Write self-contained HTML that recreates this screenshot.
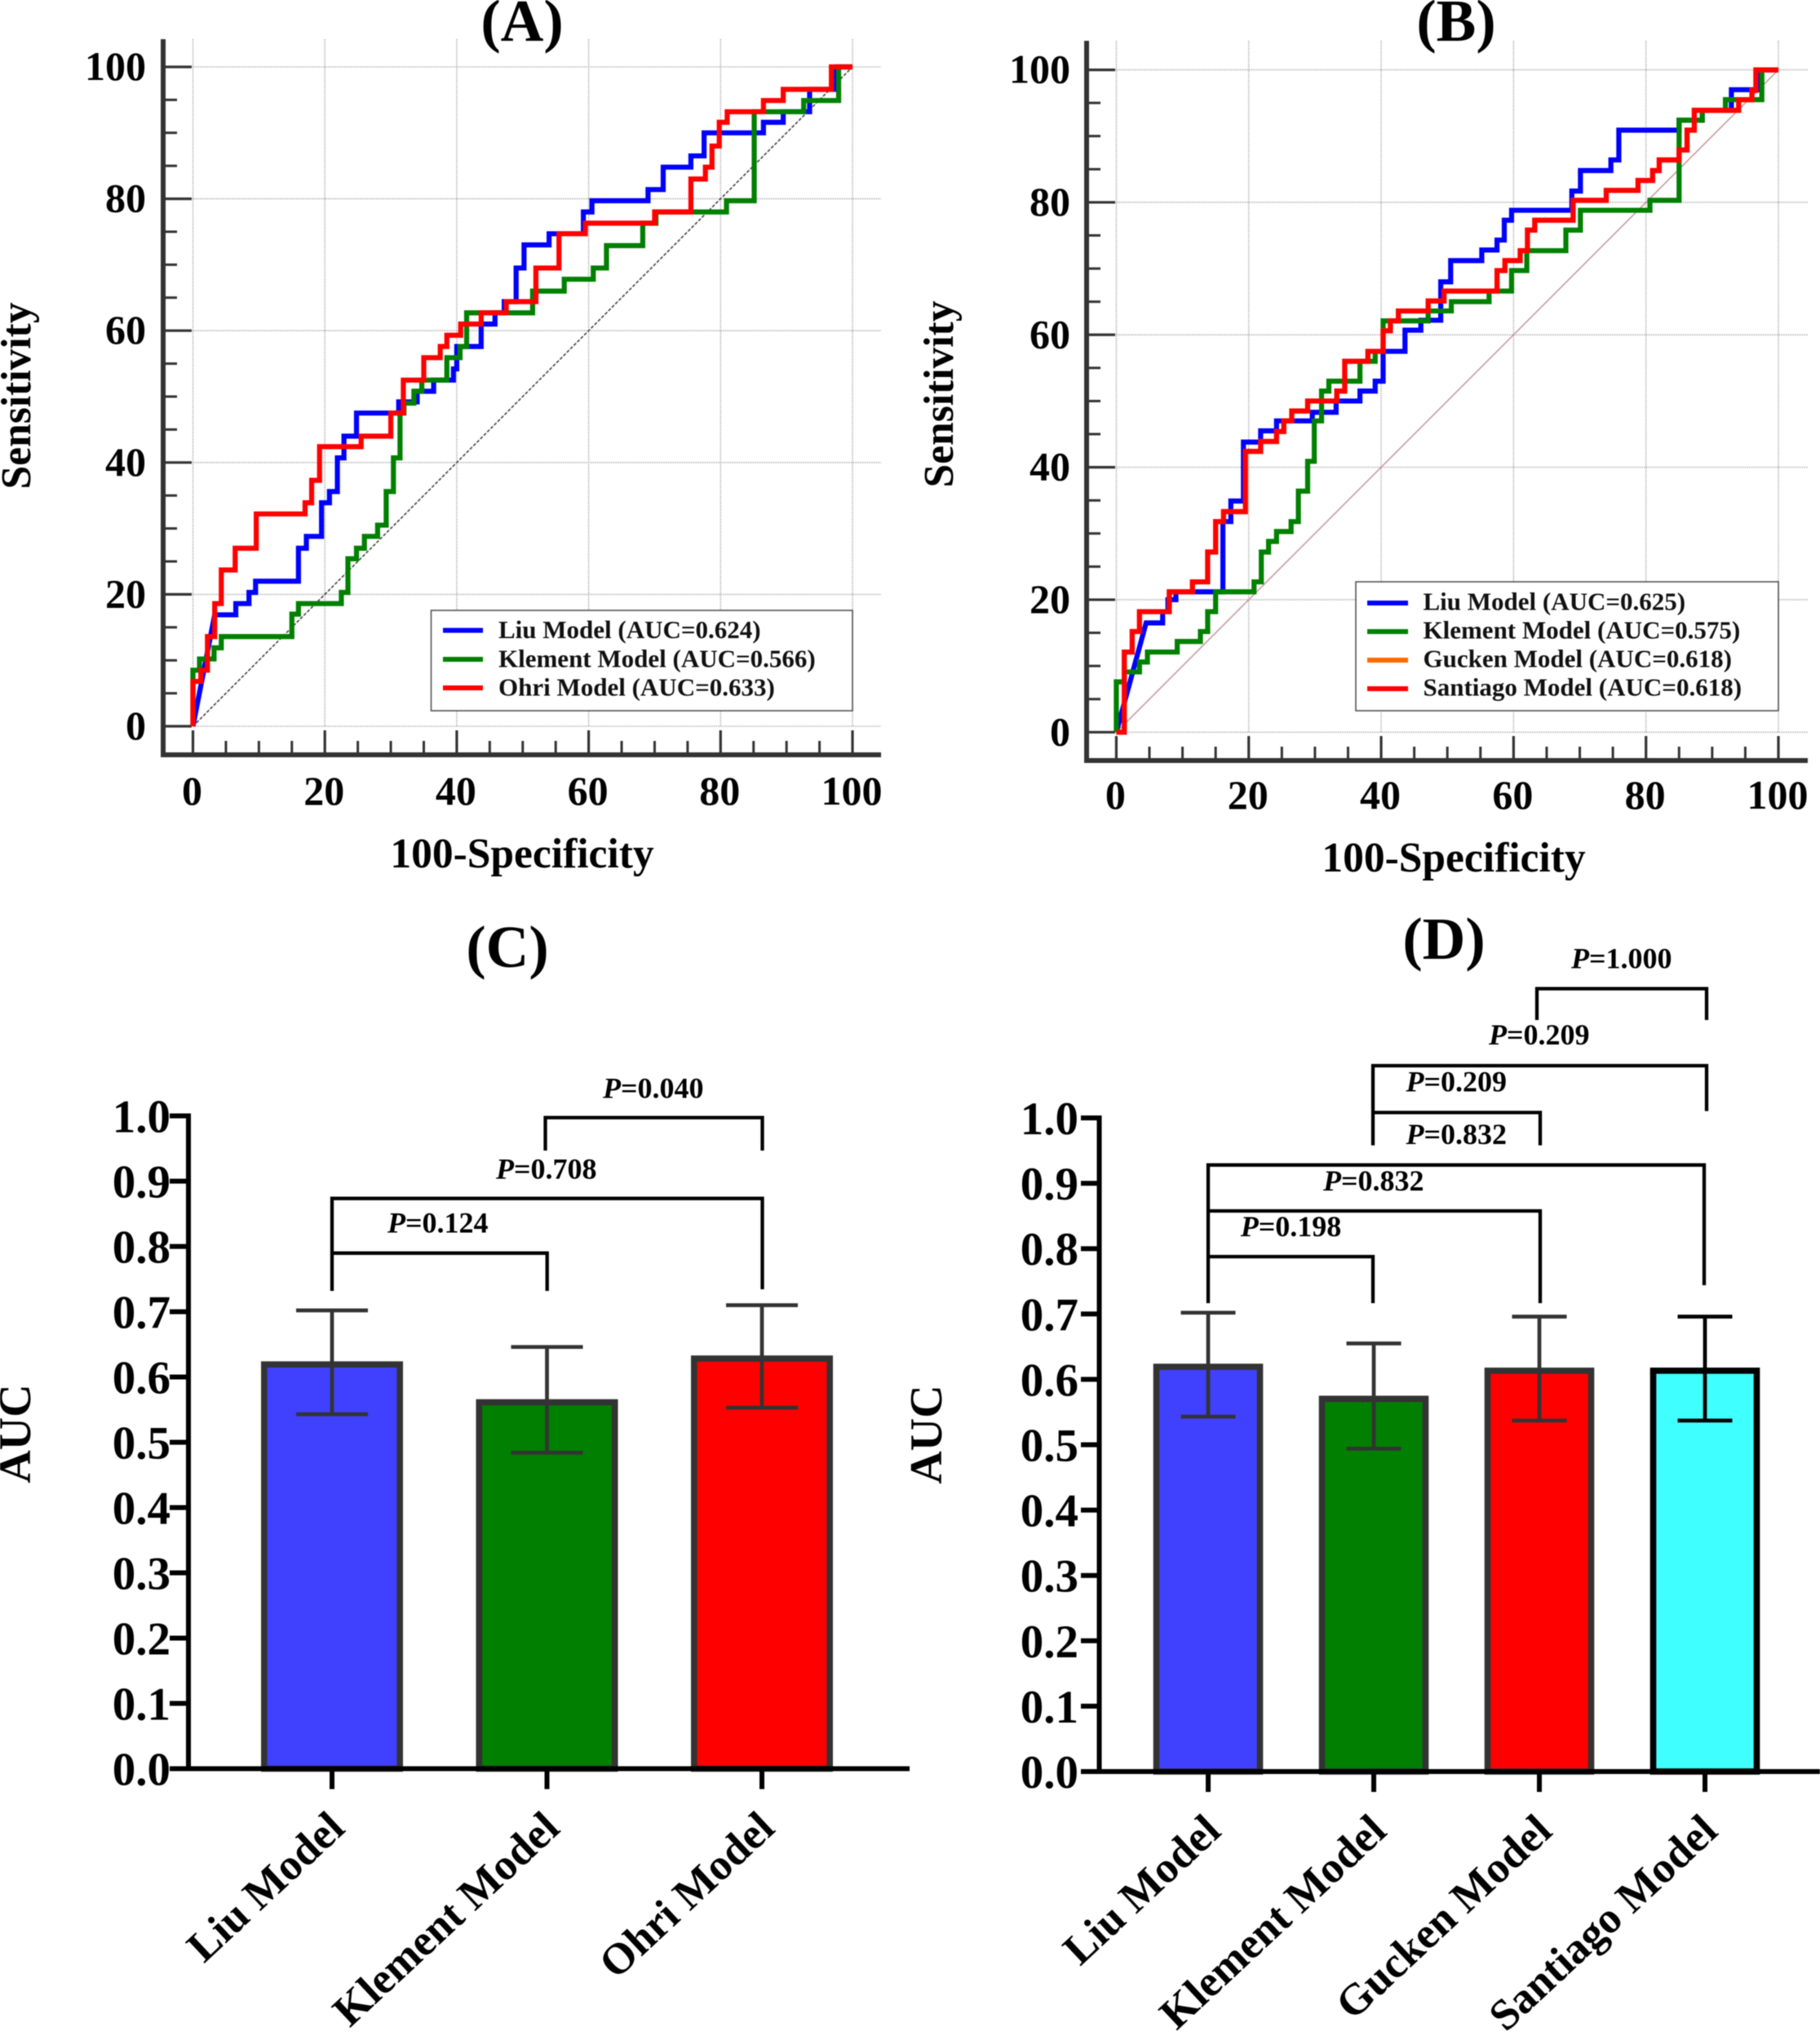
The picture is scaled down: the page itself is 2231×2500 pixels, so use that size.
<!DOCTYPE html>
<html lang="en">
<head>
<meta charset="utf-8">
<title>ROC curves and AUC comparison</title>
<style>
html,body{margin:0;padding:0;background:#fff;width:2231px;height:2500px;overflow:hidden}
svg{display:block;filter:blur(0.5px)}
text{font-family:"Liberation Serif",serif;font-weight:bold;fill:#000}
.leg{font-size:31px;fill:#111}
.pv{font-size:36px}
.ttl{font-size:73px;text-anchor:middle}
.ax{font-size:51.5px;text-anchor:middle}
.auc{font-size:56px;text-anchor:middle}
</style>
</head>
<body>
<svg id="fig" xmlns="http://www.w3.org/2000/svg" width="2231" height="2500" viewBox="0 0 2231 2500">
  <rect x="0" y="0" width="2231" height="2500" fill="#fff"/>
  <g id="panelA"></g>
  <g id="panelB"></g>
  <g id="panelC"></g>
  <g id="panelD"></g>

  <text class="ttl" x="640" y="50">(A)</text>
  <text class="ttl" x="1785" y="50">(B)</text>
  <text class="ttl" x="622" y="1185">(C)</text>
  <text class="ttl" x="1770" y="1175">(D)</text>

  <text class="ax" x="640" y="1063">100-Specificity</text>
  <text class="ax" x="1782" y="1068">100-Specificity</text>
  <text class="ax" transform="translate(37 485) rotate(-90)">Sensitivity</text>
  <text class="ax" transform="translate(1168 483) rotate(-90)">Sensitivity</text>
  <text class="auc" transform="translate(37 1757) rotate(-90)">AUC</text>
  <text class="auc" transform="translate(1154 1758) rotate(-90)">AUC</text>

  <g>
    <rect x="528.5" y="748" width="516.5" height="123" fill="#fff" stroke="#555" stroke-width="1.6"/>
    <rect x="543" y="769.5" width="49" height="6" fill="#0000ff"/>
    <text class="leg" x="611" y="782">Liu Model (AUC=0.624)</text>
    <rect x="543" y="805" width="49" height="6" fill="#008000"/>
    <text class="leg" x="611" y="817.5">Klement Model (AUC=0.566)</text>
    <rect x="543" y="840" width="49" height="6" fill="#ff0000"/>
    <text class="leg" x="611" y="852.5">Ohri Model (AUC=0.633)</text>
  </g>
  <g>
    <rect x="1662" y="713" width="518" height="158" fill="#fff" stroke="#555" stroke-width="1.6"/>
    <rect x="1676" y="736" width="50" height="6" fill="#0000ff"/>
    <text class="leg" x="1744.5" y="747.5">Liu Model (AUC=0.625)</text>
    <rect x="1676" y="771" width="50" height="6" fill="#008000"/>
    <text class="leg" x="1744.5" y="782.5">Klement Model (AUC=0.575)</text>
    <rect x="1676" y="806" width="50" height="6" fill="#ff6a00"/>
    <text class="leg" x="1744.5" y="817.5">Gucken Model (AUC=0.618)</text>
    <rect x="1676" y="841" width="50" height="6" fill="#ff0000"/>
    <text class="leg" x="1744.5" y="852.5">Santiago Model (AUC=0.618)</text>
  </g>

  <g fill="none" stroke="#000" stroke-width="4.3">
    <path d="M668.5 1410V1369.6H934.5V1410"/>
    <path d="M407 1582V1468.7H934.5V1580"/>
    <path d="M407 1535.7H670.7V1582"/>
    <text class="pv" stroke="none" x="739" y="1345.5"><tspan font-style="italic">P</tspan>=0.040</text>
    <text class="pv" stroke="none" x="608" y="1444.6"><tspan font-style="italic">P</tspan>=0.708</text>
    <text class="pv" stroke="none" x="475" y="1510.7"><tspan font-style="italic">P</tspan>=0.124</text>
  </g>
  <g fill="none" stroke="#000" stroke-width="4.3">
    <path d="M1884 1250V1211.6H2092V1250"/>
    <path d="M1683 1403.6V1306H2092V1361.6"/>
    <path d="M1683 1363.4H1888V1403.6"/>
    <path d="M1481 1597V1427.7H2089V1575"/>
    <path d="M1481 1484H1888V1597"/>
    <path d="M1481 1540H1683V1597"/>
    <text class="pv" stroke="none" x="1926" y="1186.6"><tspan font-style="italic">P</tspan>=1.000</text>
    <text class="pv" stroke="none" x="1825" y="1280"><tspan font-style="italic">P</tspan>=0.209</text>
    <text class="pv" stroke="none" x="1723.5" y="1337.5"><tspan font-style="italic">P</tspan>=0.209</text>
    <text class="pv" stroke="none" x="1723.5" y="1401.8"><tspan font-style="italic">P</tspan>=0.832</text>
    <text class="pv" stroke="none" x="1622" y="1459"><tspan font-style="italic">P</tspan>=0.832</text>
    <text class="pv" stroke="none" x="1520.7" y="1515"><tspan font-style="italic">P</tspan>=0.198</text>
  </g>
</svg>

<script>
// ---------- Panel A ROC data (step vertices: 100-specificity, sensitivity) ----------
const liuFprA = [3.3,6.5,8.5,9.5,16,17.2,19.5,20.7,21.9,22.9,24.8,31.2,34,36.5,39.5,40,43.7,45.8,47.2,49,50.2,54,59.2,60.5,69,71.3,75.5,77.5,86.5,89.5,93.5,94,97.5];
const liuTprA = [16.9,18.6,20.3,22,27,28.8,33.9,35.6,40.7,44,47.5,49.2,50.8,52.5,54.2,57.6,61,62.7,64.4,69.5,73,74.7,78,79.7,81.4,84.8,86.5,90,91.6,93.2,96.6,96.6,100];
const klementFprA = [0,1,3.2,4.3,15,16,22.5,23.5,24.8,26,28,29.3,30.4,31.4,32,33.5,34.7,38.5,40.5,41.5,51.5,56.3,60.7,62.7,68.2,70.2,71.3,80.9,85.1,92.6,97.9];
const klementTprA = [8.5,10.2,11.9,13.6,17,18.6,20.3,25.4,27,28.8,30.5,35.6,40.7,47.5,49,50.8,52.5,55.9,57.6,62.7,66,67.8,69.5,72.9,76.3,78,78,79.7,93.2,94.9,100];
const ohriFprA = [0,1.2,2.2,3.3,4.3,6.4,9.6,17,18,19.2,25.5,30,31.9,35,37.5,38.5,40.6,43.7,47.5,52,55.5,59.5,70,75.5,77.7,78.7,79.8,81,86.5,89.5,96.8];
const ohriTprA = [6.8,8.5,13.6,18.6,23.7,27,32.2,33.9,37.3,42.4,44,47.5,52.5,55.9,57.6,59.3,61,62.7,64.4,69.5,74.7,76.3,78,83,84.8,88,91.6,93.2,94.9,96.6,100];

// ---------- Panel B ROC data ----------
const liuFprB = [4.5,7,7.8,9,16.1,17.3,19.2,21.8,24.2,29.6,33.2,36.8,39.1,40.3,43.6,46,49,50.5,55.2,57.5,58.6,59.7,68.8,70.1,74.7,75.9,85,88.5,92.9,97.3];
const liuTprB = [16.5,18.2,20,21.2,31.8,34.9,43.8,45.5,47,48.3,50,51.5,53,57.5,60.7,62.2,68,71.2,72.8,74.3,77.3,78.8,81.7,84.8,86.4,90.9,92.4,93.9,97,100];
const klementFprB = [0,1.2,3.5,4.7,9.2,12.7,13.8,15,20.8,21.9,23,24.2,26.4,27.5,28.9,29.9,31,32.1,36.8,39.1,40.3,47.1,50.6,56.3,59.7,62,67.9,70.1,80.6,85,88.5,92,97.5];
const klementTprB = [7.6,9.1,10.6,12.1,13.7,15.2,18.2,21.2,22.7,27.2,28.8,30.3,31.8,36.4,40.9,47,51.5,53,56,57.5,62.1,63.6,65,66.6,69.7,72.7,75.8,78.8,80.3,92.4,93.9,95.5,100];
const guckenFprB = [1.2,1.2,2.4,3.5,8,11.5,13.8,15,16.2,19.5,21.8,24.2,25.3,26.5,28.9,33.3,34.5,38,40.3,41.4,42.6,47.1,49.5,57.5,58.7,61,62.1,63.2,69,74,78.8,81,82,85,86.2,87.3,94,96,96.6];
const guckenTprB = [0,12.1,15.2,18.2,21.2,22.7,27.2,31.8,33.3,42.4,43.9,45.4,47,48.5,50,51.5,56,57.5,60.6,62.1,63.6,65.1,66.6,69.7,71.2,72.7,75.8,77.3,80.3,81.8,83.3,84.8,86.4,87.9,90.9,93.9,95.5,96.9,100];
const santiagoFprB = [1.2,1.2,2.4,3.5,8,11.5,13.8,15,16.2,19.5,21.8,24.2,25.3,26.5,28.9,33.3,34.5,38,40.3,41.4,42.6,47.1,49.5,57.5,58.7,61,62.1,63.2,69,74,78.8,81,82,85,86.2,87.3,94,96,96.6];
const santiagoTprB = [0,12.1,15.2,18.2,21.2,22.7,27.2,31.8,33.3,42.4,43.9,45.4,47,48.5,50,51.5,56,57.5,60.6,62.1,63.6,65.1,66.6,69.7,71.2,72.7,75.8,77.3,80.3,81.8,83.3,84.8,86.4,87.9,90.9,93.9,95.5,96.9,100];

// ---------- ROC axis ticks ----------
const rocMajorTicks = [0,20,40,60,80,100];
const rocMinorTicks = [5,10,15,25,30,35,45,50,55,65,70,75,85,90,95];
const rocTickLabels = ['0','20','40','60','80','100'];

// ---------- Bar chart data ----------
const aucTickValues = [0,0.1,0.2,0.3,0.4,0.5,0.6,0.7,0.8,0.9,1];
const aucTickLabels = ['0.0','0.1','0.2','0.3','0.4','0.5','0.6','0.7','0.8','0.9','1.0'];
const categoriesC = ['Liu Model','Klement Model','Ohri Model'];
const aucC = [0.624,0.566,0.633];
const lowerC = [0.543,0.484,0.553];
const upperC = [0.702,0.646,0.710];
const colorsC = ['#4040ff','#007f00','#ff0000'];
const categoriesD = ['Liu Model','Klement Model','Gucken Model','Santiago Model'];
const aucD = [0.624,0.575,0.618,0.618];
const lowerD = [0.543,0.494,0.537,0.537];
const upperD = [0.702,0.655,0.696,0.696];
const colorsD = ['#4040ff','#007f00','#ff0000','#40ffff'];

const NS = 'http://www.w3.org/2000/svg';
function make(parent, tag, name, attrs, txt){
  const el = document.createElementNS(NS, tag);
  
  
  for (const k in attrs) el.setAttribute(k, attrs[k]);
  if (txt !== undefined) el.textContent = txt;
  parent.appendChild(el);
  return el;
}
function linear(d0,d1,r0,r1){ return v => r0 + (v-d0)*(r1-r0)/(d1-d0); }
function slug(s){ return s.toLowerCase().replace(/[^a-z0-9]+/g,'-'); }

function drawRoc(id, c, series){
  const g = document.getElementById(id);
  const x = linear(0,100,c.x0,c.x100), y = linear(0,100,c.y0,c.y100);
  // grid
  rocMajorTicks.forEach(t=>{
    make(g,'line','grid-vertical-'+t,{x1:x(t),x2:x(t),y1:c.top,y2:c.y0,stroke:'#b5b5b5','stroke-width':1.6,'stroke-dasharray':'1.6 1.2'});
    make(g,'line','grid-horizontal-'+t,{x1:c.x0,x2:c.right,y1:y(t),y2:y(t),stroke:'#b5b5b5','stroke-width':1.6,'stroke-dasharray':'1.6 1.2'});
  });
  // reference diagonal
  make(g,'line','reference-diagonal',{x1:x(0),y1:y(0),x2:x(100),y2:y(100),stroke:c.diag,'stroke-width':1.6,'stroke-dasharray':c.dash});
  // ticks
  rocMajorTicks.forEach((t,i)=>{
    make(g,'line','x-tick-'+t,{x1:x(t),x2:x(t),y1:c.bottom,y2:c.bottom-30,stroke:'#333','stroke-width':3.2});
    make(g,'line','y-tick-'+t,{x1:c.left,x2:c.left+35,y1:y(t),y2:y(t),stroke:'#333','stroke-width':3.2});
    make(g,'text','x-tick-label-'+t,{x:x(t)-1,y:c.xLabelY,'text-anchor':'middle','font-size':50},rocTickLabels[i]);
    make(g,'text','y-tick-label-'+t,{x:c.yLabelX,y:y(t)+16,'text-anchor':'end','font-size':50},rocTickLabels[i]);
  });
  rocMinorTicks.forEach(t=>{
    make(g,'line','x-minor-tick-'+t,{x1:x(t),x2:x(t),y1:c.bottom,y2:c.bottom-17,stroke:'#333','stroke-width':3});
    make(g,'line','y-minor-tick-'+t,{x1:c.left,x2:c.left+17,y1:y(t),y2:y(t),stroke:'#333','stroke-width':3});
  });
  // axes
  make(g,'line','y-axis',{x1:c.left,x2:c.left,y1:c.top,y2:c.bottom+3,stroke:'#333','stroke-width':6});
  make(g,'line','x-axis',{x1:c.left-3,x2:c.right,y1:c.bottom,y2:c.bottom,stroke:'#333','stroke-width':6});
  // curves
  series.forEach(s=>{
    let d = 'M'+x(0)+' '+y(0)+' L'+x(s.fpr[0])+' '+y(s.tpr[0]);
    for (let i=1;i<s.fpr.length;i++) d += ' H'+x(s.fpr[i])+' V'+y(s.tpr[i]);
    d += ' H'+x(100);
    make(g,'path','roc-curve-'+s.name,{d:d,fill:'none',stroke:s.color,'stroke-width':6.2,'stroke-linejoin':'miter'});
  });
}

function drawBars(id, c, cats, vals, lo, hi, cols){
  const g = document.getElementById(id);
  const y = linear(0,1,c.y0,c.y1);
  const bx = i => c.first + i*c.step;
  cats.forEach((cat,i)=>{
    const name = slug(cat);
    const bw = 7.6;
    const outline = (cols[i]==='#40ffff') ? '#000' : '#333';
    make(g,'rect','bar-'+name,{x:bx(i)-c.half+bw/2,y:y(vals[i])+bw/2,width:2*c.half-bw,height:y(0)-y(vals[i])-bw/2,fill:cols[i],stroke:outline,'stroke-width':bw});
    make(g,'line','error-bar-'+name,{x1:bx(i),x2:bx(i),y1:y(lo[i]),y2:y(hi[i]),stroke:outline,'stroke-width':4.7});
    make(g,'line','error-cap-upper-'+name,{x1:bx(i)-c.cap,x2:bx(i)+c.cap,y1:y(hi[i]),y2:y(hi[i]),stroke:outline,'stroke-width':4.7});
    make(g,'line','error-cap-lower-'+name,{x1:bx(i)-c.cap,x2:bx(i)+c.cap,y1:y(lo[i]),y2:y(lo[i]),stroke:outline,'stroke-width':4.7});
    make(g,'line','category-tick-'+name,{x1:bx(i),x2:bx(i),y1:y(0),y2:y(0)+25,stroke:'#000','stroke-width':6});
    make(g,'text','category-label-'+name,{'text-anchor':'end','font-size':53.5,transform:'translate('+(bx(i)+c.labelDx)+' '+(y(0)+c.labelDy)+') rotate(-43)'},cat);
  });
  aucTickValues.forEach((t,i)=>{
    make(g,'line','y-tick-'+aucTickLabels[i],{x1:c.tickEnd,x2:c.axisX,y1:y(t),y2:y(t),stroke:'#000','stroke-width':6});
    make(g,'text','y-tick-label-'+aucTickLabels[i],{x:c.labelX,y:y(t)+20,'text-anchor':'end','font-size':57},aucTickLabels[i]);
  });
  make(g,'line','y-axis',{x1:c.axisX,x2:c.axisX,y1:y(1)-3,y2:y(0)+3,stroke:'#000','stroke-width':6});
  make(g,'line','x-axis',{x1:c.tickEnd,x2:c.right,y1:y(0),y2:y(0),stroke:'#000','stroke-width':6});
}

drawRoc('panelA',{x0:236.5,x100:1045,y0:890,y100:82,left:200,bottom:925,top:48,right:1080,xLabelY:986,yLabelX:179,diag:'#444',dash:'4 2'},[
  {name:'liu',fpr:liuFprA,tpr:liuTprA,color:'#0000ff'},
  {name:'klement',fpr:klementFprA,tpr:klementTprA,color:'#008000'},
  {name:'ohri',fpr:ohriFprA,tpr:ohriTprA,color:'#ff0000'}
]);
drawRoc('panelB',{x0:1368.4,x100:2180,y0:897.3,y100:85.6,left:1332,bottom:932,top:50,right:2216,xLabelY:991,yLabelX:1312,diag:'#c99',dash:'none'},[
  {name:'liu',fpr:liuFprB,tpr:liuTprB,color:'#0000ff'},
  {name:'klement',fpr:klementFprB,tpr:klementTprB,color:'#008000'},
  {name:'gucken',fpr:guckenFprB,tpr:guckenTprB,color:'#ff6a00'},
  {name:'santiago',fpr:santiagoFprB,tpr:santiagoTprB,color:'#ff0000'}
]);
drawBars('panelC',{y0:2167.5,y1:1367.5,first:407,step:263.5,half:87,cap:44,axisX:231,tickEnd:208,labelX:209,right:1115,labelDx:18,labelDy:76},categoriesC,aucC,lowerC,upperC,colorsC);
drawBars('panelD',{y0:2171,y1:1370,first:1481,step:203,half:67.3,cap:33.5,axisX:1347.5,tickEnd:1325,labelX:1322,right:2231,labelDx:18,labelDy:76},categoriesD,aucD,lowerD,upperD,colorsD);
</script>
</body>
</html>
